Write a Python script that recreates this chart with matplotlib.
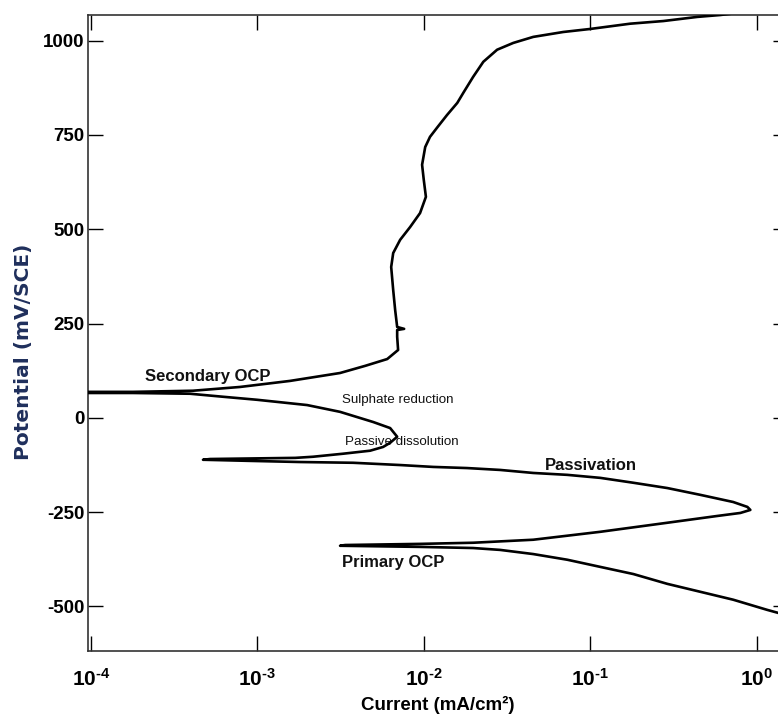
# Potentiodynamic polarization curve (log current vs potential)

import numpy as np
import matplotlib
matplotlib.use('Agg')
import matplotlib.pyplot as plt

plt.rcParams['font.family'] = ['Liberation Sans', 'DejaVu Sans']
plt.rcParams['mathtext.fontset'] = 'custom'
plt.rcParams['mathtext.rm'] = 'Liberation Sans:bold'
plt.rcParams['mathtext.bf'] = 'Liberation Sans:bold'
plt.rcParams['mathtext.it'] = 'Liberation Sans:bold'

# Scan data: current density (mA/cm2) and potential (mV/SCE), in scan order
current = [1.35, 1.16, 0.724, 0.459, 0.291, 0.182, 0.115, 0.0728, 0.0455, 0.0288,
           0.0198, 0.0095, 0.00314,
           0.00337, 0.0095, 0.0198, 0.0455, 0.115, 0.291, 0.581, 0.80, 0.918,
           0.881, 0.724, 0.459, 0.291, 0.182, 0.115, 0.0728, 0.0455, 0.0288, 0.0182,
           0.0114, 0.00721, 0.00376, 0.00181, 0.000904, 0.000471,
           0.00052, 0.00169, 0.00216, 0.00327, 0.00476, 0.0057, 0.00628, 0.00692,
           0.00628, 0.00497, 0.00314, 0.00199, 0.000995, 0.000622, 0.000394,
           0.000179, 0.0000959, 0.0000652,
           0.0000959, 0.000179, 0.00041, 0.000787, 0.00157, 0.00314, 0.00445,
           0.00603, 0.00701, 0.00692, 0.00692, 0.00762, 0.00692, 0.00673, 0.00655,
           0.00637, 0.00655, 0.00721, 0.00828, 0.0095, 0.0103, 0.0100, 0.00977,
           0.0102, 0.0109, 0.0121, 0.0138, 0.0159, 0.0173, 0.0198, 0.0228, 0.0276,
           0.0345, 0.0455, 0.0689, 0.100, 0.174, 0.275, 0.441, 0.605, 0.857]
potential = [-517, -509, -482, -461, -440, -414, -395, -376, -361, -350,
             -345, -342, -339,
             -337, -334, -331, -323, -302, -278, -260, -252, -244,
             -236, -223, -204, -186, -172, -159, -151, -146, -138, -133,
             -130, -125, -119, -117, -114, -111,
             -109, -106, -103, -95, -87, -77, -66, -50,
             -27, -11, 16, 34, 48, 56, 64,
             66, 66, 67,
             69, 69, 72, 82, 98, 119, 138,
             156, 180, 215, 233, 236, 241, 286, 339,
             400, 437, 472, 506, 543, 586, 631, 671,
             718, 745, 771, 803, 835, 862, 904, 944, 976,
             994, 1010, 1023, 1031, 1045, 1052, 1063, 1068, 1076]

# Region labels
labels = ['Secondary OCP', 'Sulphate reduction', 'Passive dissolution', 'Passivation', 'Primary OCP']
label_x = [2.11e-4, 3.23e-3, 3.37e-3, 0.0537, 3.23e-3]
label_y = [109, 48, -64, -125, -384]
label_bold = [True, False, False, True, True]

y_ticks = [-500, -250, 0, 250, 500, 750, 1000]
x_ticks = [1e-4, 1e-3, 1e-2, 1e-1, 1e0]
x_tick_labels = ['$10^{\u20104}$', '$10^{\u20103}$', '$10^{\u20102}$', '$10^{\u20101}$', '$10^{0}$']

fig = plt.figure(figsize=(7.78, 7.15), dpi=100)
ax = fig.add_axes([0.1131, 0.0895, 0.9, 0.8895])

ax.plot(current, potential, color='black', lw=1.9, zorder=3)

for txt, x, y, b in zip(labels, label_x, label_y, label_bold):
    ax.text(x, y, txt, fontsize=12 if b else 9.6, fontweight='bold' if b else 'normal',
            ha='left', va='center', color='#111111', zorder=2)

ax.set_xscale('log')
ax.set_xlim(9.59e-5, 1.55)
ax.set_ylim(-618, 1068)
ax.set_xticks(x_ticks)
ax.set_xticklabels(x_tick_labels)
ax.xaxis.set_minor_locator(matplotlib.ticker.NullLocator())
ax.set_yticks(y_ticks)
ax.set_yticklabels([str(v) for v in y_ticks])

ax.tick_params(which='both', direction='in', length=11, width=1.0, top=True, right=True,
               labelsize=13.5, pad=2.5)
ax.tick_params(axis='x', labelsize=15, pad=12)
for lbl in ax.get_yticklabels():
    lbl.set_fontweight('bold')

for s in ax.spines.values():
    s.set_linewidth(1.2)
    s.set_color('#333333')

ax.set_xlabel('Current (mA/cm²)', fontsize=13.5, fontweight='bold')
ax.xaxis.set_label_coords(0.5, -0.07)
ax.set_ylabel('Potential (mV/SCE)', fontsize=14.5, fontweight='bold', color='#1f2f5c',
              family='DejaVu Sans')
ax.yaxis.set_label_coords(-0.078, 0.47)

plt.savefig('out.png', dpi=100)
